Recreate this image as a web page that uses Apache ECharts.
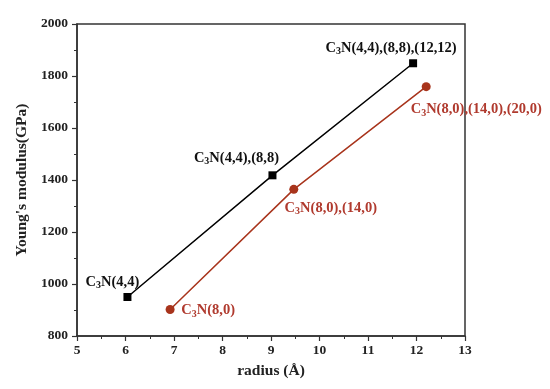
<!DOCTYPE html>
<html><head><meta charset="utf-8">
<script src="https://cdn.jsdelivr.net/npm/echarts@6/dist/echarts.min.js"></script>
<style>html,body{margin:0;padding:0;background:#fff}#c{width:550px;height:389px}</style>
</head><body><div id="c"></div>
<script>
const xTicks = [5, 13];
const yTicks = [800, 2000];
const blackX = [6.04, 9.03, 11.93];
const blackY = [950, 1418, 1849];
const blackLabels = ['C{s|3}N(4,4)', 'C{s|3}N(4,4),(8,8)', 'C{s|3}N(4,4),(8,8),(12,12)'];
const redX = [6.92, 9.47, 12.2];
const redY = [902, 1364, 1759];
const redLabels = ['C{s|3}N(8,0)', 'C{s|3}N(8,0),(14,0)', 'C{s|3}N(8,0),(14,0),(20,0)'];

const blackOffsets = [[-15,-15],[-36,-17],[-22,-15]];
const redOffsets = [[38,1],[37,19],[50,23]];
const FONT = '"Liberation Serif","Times New Roman",serif';

function mk(xs, ys, labels, offs, color) {
  return xs.map((x, i) => ({
    value: [x, ys[i]],
    label: {
      show: true, position: 'inside', offset: offs[i],
      formatter: labels[i], color: color,
      fontFamily: FONT, fontWeight: 'bold', fontSize: 14.5,
      rich: { s: { fontSize: 10, fontWeight: 'bold', fontFamily: FONT, color: color, verticalAlign: 'bottom', padding: [7,0,0,0] } }
    }
  }));
}

const chart = echarts.init(document.getElementById('c'));
const axisCommon = {
  axisLine: { show: true, lineStyle: { color: '#333', width: 1.5 } },
  axisTick: { show: true, inside: false, length: 5, lineStyle: { color: '#333', width: 1.2 } },
  minorTick: { show: true, splitNumber: 2, length: 3, lineStyle: { color: '#333', width: 1 } },
  splitLine: { show: false },
  axisLabel: { color: '#222', fontFamily: FONT, fontWeight: 'bold', fontSize: 13.5, formatter: v => String(v) },
  nameTextStyle: { color: '#222', fontFamily: FONT, fontWeight: 'bold', fontSize: 15.5 }
};
chart.setOption({
  animation: false,
  grid: { left: 77, right: 85, top: 24, bottom: 53, show: true, borderColor: '#333', borderWidth: 1.5 },
  xAxis: Object.assign({}, axisCommon, {
    type: 'value', min: xTicks[0], max: xTicks[1], interval: 1,
    name: 'radius (Å)', nameLocation: 'middle', nameGap: 27,
    axisLabel: Object.assign({}, axisCommon.axisLabel, { margin: 8 })
  }),
  yAxis: Object.assign({}, axisCommon, {
    type: 'value', min: yTicks[0], max: yTicks[1], interval: 200,
    name: "Young's modulus(GPa)", nameLocation: 'middle', nameGap: 46,
    axisLabel: Object.assign({}, axisCommon.axisLabel, { margin: 9 })
  }),
  series: [
    { type: 'line', data: mk(blackX, blackY, blackLabels, blackOffsets, '#111'),
      symbol: 'rect', symbolSize: 8, itemStyle: { color: '#000' },
      lineStyle: { color: '#000', width: 1.5 } },
    { type: 'line', data: mk(redX, redY, redLabels, redOffsets, '#b03a2e'),
      symbol: 'circle', symbolSize: 9, itemStyle: { color: '#a8341c' },
      lineStyle: { color: '#a8341c', width: 1.5 } }
  ]
});
</script></body></html>
